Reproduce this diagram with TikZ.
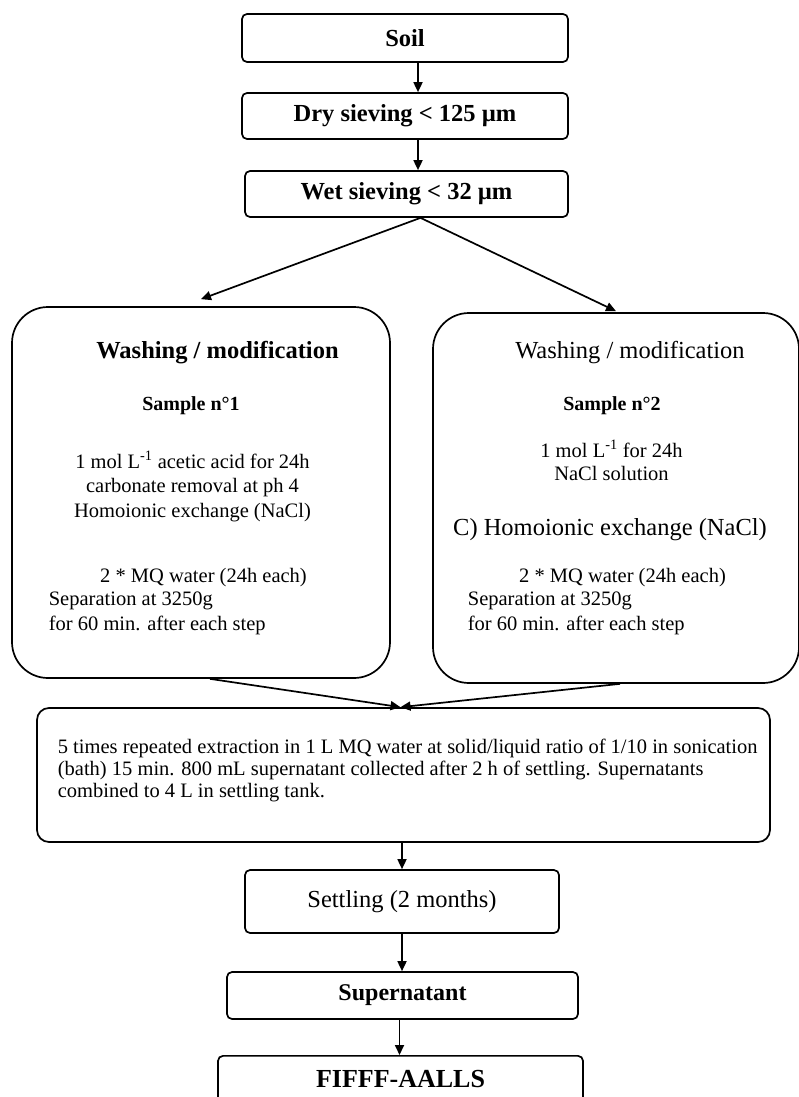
\documentclass[tikz,border=0pt]{standalone}
\usepackage{fontspec}
\setmainfont{Liberation Serif}
\usetikzlibrary{arrows.meta,positioning}

\begin{document}
\begin{tikzpicture}[x=1pt, y=-1pt, line width=1.7pt, >={Triangle[length=10pt,width=9pt]},
  blk/.style={draw, rounded corners=5pt, inner sep=0pt, align=center},
  bigblk/.style={draw, rounded corners=36pt, inner sep=0pt},
  txt/.style={inner sep=0pt, anchor=base, align=center, font=\fontsize{20.5}{24.3}\selectfont},
  ttl/.style={inner sep=0pt, anchor=base, font=\fontsize{24.5}{28}\selectfont}]
\useasboundingbox (0,0) rectangle (799,1097);
% top chain
\node[blk, minimum width=326pt, minimum height=48pt, font=\fontsize{24.5}{28}\selectfont\bfseries] (soil) at (405,38) {Soil};
\node[blk, minimum width=326pt, minimum height=46pt, font=\fontsize{24.5}{28}\selectfont\bfseries] (dry) at (405,116) {Dry sieving < 125 µm};
\node[blk, minimum width=323pt, minimum height=46pt, font=\fontsize{24.5}{28}\selectfont\bfseries] (wet) at (406.5,194) {Wet sieving < 32 µm};
% washing boxes (base = last line)
\node[bigblk, minimum width=378pt, minimum height=371pt] (wash1) at (201,492.5) {};
\node[bigblk, minimum width=366pt, minimum height=370pt] (wash2) at (616,498) {};
\node[ttl, font=\fontsize{24.5}{28}\selectfont\bfseries] (t1) at (217.5,358) {Washing / modification};
\node[txt, font=\fontsize{20}{24}\selectfont\bfseries] (s1) at (191,410) {Sample n°1};
\node[txt] (a1) at (192.5,517) {1 mol L\textsuperscript{-1} acetic acid for 24h\\carbonate removal at ph 4\\Homoionic exchange (NaCl)};
\node[txt] (m1) at (203.5,582) {2 * MQ water (24h each)};
\node[txt, anchor=base west, align=left] (sep1) at (48,630) {Separation at 3250g\\for 60 min. after each step};
\node[ttl] (t2) at (630,358) {Washing / modification};
\node[txt, font=\fontsize{20}{24}\selectfont\bfseries] (s2) at (612,410) {Sample n°2};
\node[txt, font=\fontsize{20.5}{23}\selectfont] (a2) at (611.5,480) {1 mol L\textsuperscript{-1} for 24h\\NaCl solution};
\node[ttl] (c2) at (610,535) {C) Homoionic exchange (NaCl)};
\node[txt] (m2) at (622.5,582) {2 * MQ water (24h each)};
\node[txt, anchor=base west, align=left] (sep2) at (467,630) {Separation at 3250g\\for 60 min. after each step};
% lower chain
\node[draw, rounded corners=12pt, minimum width=733pt, minimum height=134pt] (extr) at (403.5,775) {};
\node[txt, anchor=base west, align=left, font=\fontsize{20.5}{22}\selectfont] (etxt) at (57,797) {5 times repeated extraction in 1 L MQ water at solid/liquid ratio of 1/10 in sonication\\(bath) 15 min. 800 mL supernatant collected after 2 h of settling. Supernatants\\combined to 4 L in settling tank.};
\node[blk, minimum width=314pt, minimum height=63pt, font=\fontsize{24.5}{28}\selectfont] (settle) at (402,901.5) {Settling (2 months)};
\node[blk, minimum width=351pt, minimum height=47pt, font=\fontsize{24}{28}\selectfont\bfseries] (super) at (402.5,995.5) {Supernatant};
\node[blk, minimum width=365pt, minimum height=60pt, anchor=north, font=\fontsize{26}{30}\selectfont\bfseries, text height=32pt, text depth=28pt] (fifff) at (400.5,1055) {FIFFF-AALLS};
% arrows
\draw[->] ([xshift=13pt]soil.south) -- ([xshift=13pt]dry.north);
\draw[->] ([xshift=13pt]dry.south) -- ([xshift=11.5pt]wet.north);
\draw[->] ([xshift=14pt]wet.south) -- ([yshift=7pt]wash1.north);
\draw[->] ([xshift=14pt]wet.south) -- ([yshift=1pt]wash2.north);
\draw[->] ([xshift=9pt]wash1.south) -- ([xshift=-3pt]extr.north);
\draw[->] ([xshift=4pt]wash2.south) -- ([xshift=-3pt]extr.north);
\draw[->] (extr.south -| settle.north) -- (settle.north);
\draw[->] (settle.south) -- (settle.south |- super.north);
\draw[->] ([xshift=-3pt]super.south) -- ([xshift=-3pt]super.south |- fifff.north);
\end{tikzpicture}
\end{document}
